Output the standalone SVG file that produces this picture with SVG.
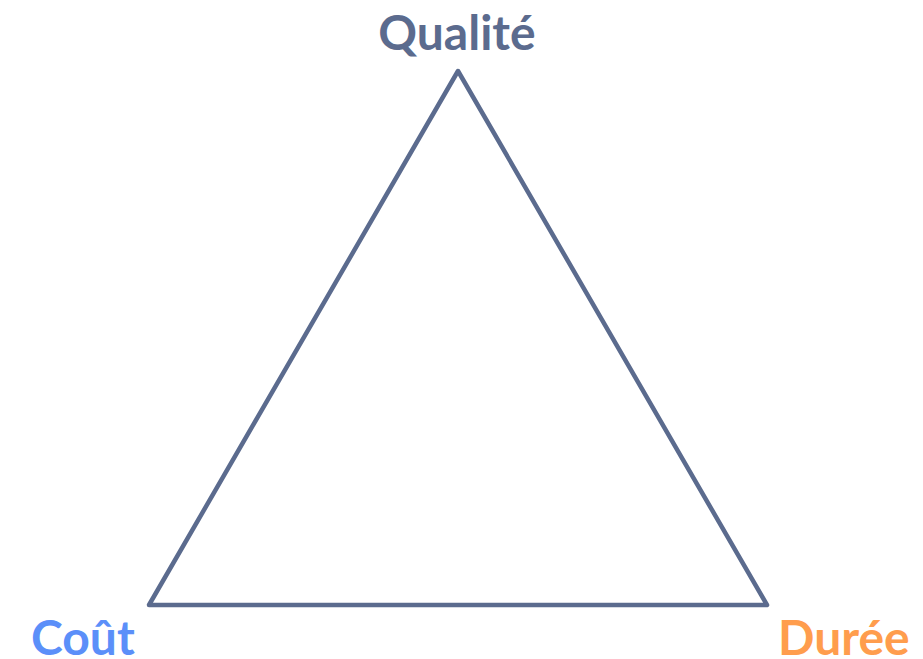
<svg xmlns="http://www.w3.org/2000/svg" width="923" height="659" viewBox="0 0 923 659">
<style>
.lbl{font-family:Lato,"Open Sans",sans-serif;font-weight:700;font-size:48px}
</style>
<rect width="923" height="659" fill="#ffffff"/>
<g id="connectors">
<polygon points="458,71 767,605 149,605" fill="none" stroke="#5b6b8e" stroke-width="4.5" stroke-linejoin="round"/>
</g>
<g id="qualite"><text class="lbl" x="457" y="50" text-anchor="middle" fill="#5b6b8e">Qualité</text></g>
<g id="cout"><text class="lbl" x="31" y="655" fill="#5b8ff9">Coût</text></g>
<g id="duree"><text class="lbl" x="778" y="655" fill="#ff9d4d">Durée</text></g>
</svg>
